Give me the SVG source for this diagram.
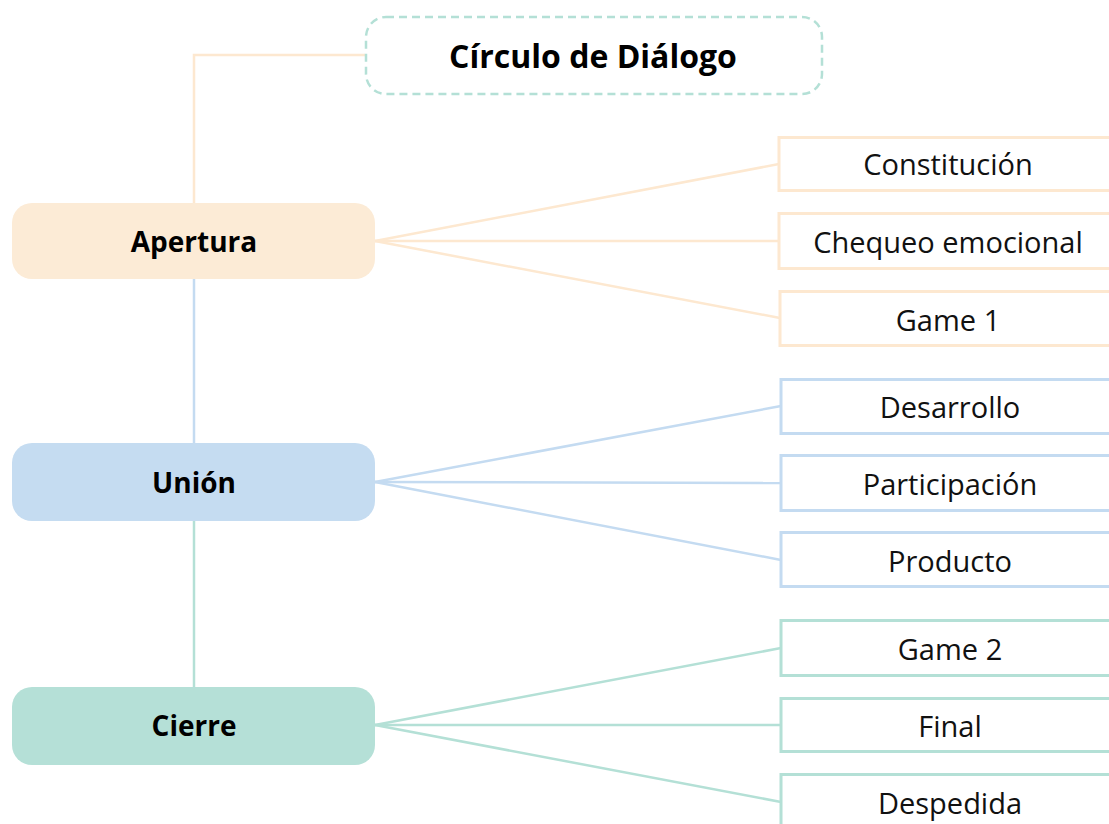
<svg xmlns="http://www.w3.org/2000/svg" width="1109" height="824" viewBox="0 0 1109 824">
<style>
.main{font-family:"Open Sans","Noto Sans",sans-serif;font-weight:bold;font-size:28px;fill:#000;text-anchor:middle;dominant-baseline:central}
.title{font-family:"Open Sans","Noto Sans",sans-serif;font-weight:bold;font-size:32px;fill:#000;text-anchor:middle;dominant-baseline:central}
.sub{font-family:"Open Sans","Noto Sans",sans-serif;font-size:29px;fill:#111;text-anchor:middle;dominant-baseline:central}
.pe{stroke:#fde8d0}
.bl{stroke:#c4dbf1}
.te{stroke:#b4e0d6}
.conn line,.conn polyline{fill:none;stroke-width:2.5}
.leaf{fill:#fff;stroke-width:3}
</style>
<rect width="1109" height="824" fill="#fff"/>
<g id="connectors" class="conn">
<polyline class="pe" points="365,55 194,55 194,203"/>
<line class="bl" x1="194" y1="279" x2="194" y2="443"/>
<line class="te" x1="194" y1="521" x2="194" y2="687"/>
<line class="pe" x1="375" y1="241" x2="779" y2="164"/>
<line class="pe" x1="375" y1="241" x2="779" y2="241"/>
<line class="pe" x1="375" y1="241" x2="780" y2="318"/>
<line class="bl" x1="375" y1="482" x2="781" y2="406"/>
<line class="bl" x1="375" y1="482" x2="781" y2="483"/>
<line class="bl" x1="375" y1="482" x2="781" y2="560"/>
<line class="te" x1="375" y1="725" x2="781" y2="648"/>
<line class="te" x1="375" y1="725" x2="781" y2="725"/>
<line class="te" x1="375" y1="725" x2="781" y2="802"/>
</g>
<g id="title">
<rect x="366" y="17" width="456" height="77" rx="20" fill="#fff" stroke="#b4e0d6" stroke-width="2.5" stroke-dasharray="8 5"/>
<text class="title" x="593" y="55">Círculo de Diálogo</text>
</g>
<g id="apertura">
<rect x="12" y="203" width="363" height="76" rx="20" fill="#fcebd6"/>
<text class="main" x="194" y="241">Apertura</text>
</g>
<g id="union">
<rect x="12" y="443" width="363" height="78" rx="20" fill="#c5dcf1"/>
<text class="main" x="194" y="482">Unión</text>
</g>
<g id="cierre">
<rect x="12" y="687" width="363" height="78" rx="20" fill="#b5e0d7"/>
<text class="main" x="194" y="725">Cierre</text>
</g>
<g id="constitucion">
<rect class="leaf pe" x="779" y="137.5" width="340" height="53"/>
<text class="sub" x="948" y="163">Constitución</text>
</g>
<g id="chequeo">
<rect class="leaf pe" x="779" y="213.5" width="340" height="55"/>
<text class="sub" x="948" y="241">Chequeo emocional</text>
</g>
<g id="game1">
<rect class="leaf pe" x="780" y="291.5" width="340" height="54"/>
<text class="sub" x="948" y="319">Game 1</text>
</g>
<g id="desarrollo">
<rect class="leaf bl" x="781" y="379.5" width="340" height="54"/>
<text class="sub" x="950" y="406">Desarrollo</text>
</g>
<g id="participacion">
<rect class="leaf bl" x="781" y="455.5" width="340" height="55"/>
<text class="sub" x="950" y="483">Participación</text>
</g>
<g id="producto">
<rect class="leaf bl" x="781" y="532.5" width="340" height="54"/>
<text class="sub" x="950" y="560">Producto</text>
</g>
<g id="game2">
<rect class="leaf te" x="781" y="620.5" width="340" height="55"/>
<text class="sub" x="950" y="648">Game 2</text>
</g>
<g id="final">
<rect class="leaf te" x="781" y="698.5" width="340" height="53"/>
<text class="sub" x="950" y="725">Final</text>
</g>
<g id="despedida">
<rect class="leaf te" x="781" y="774.5" width="340" height="60"/>
<text class="sub" x="950" y="802">Despedida</text>
</g>
</svg>
